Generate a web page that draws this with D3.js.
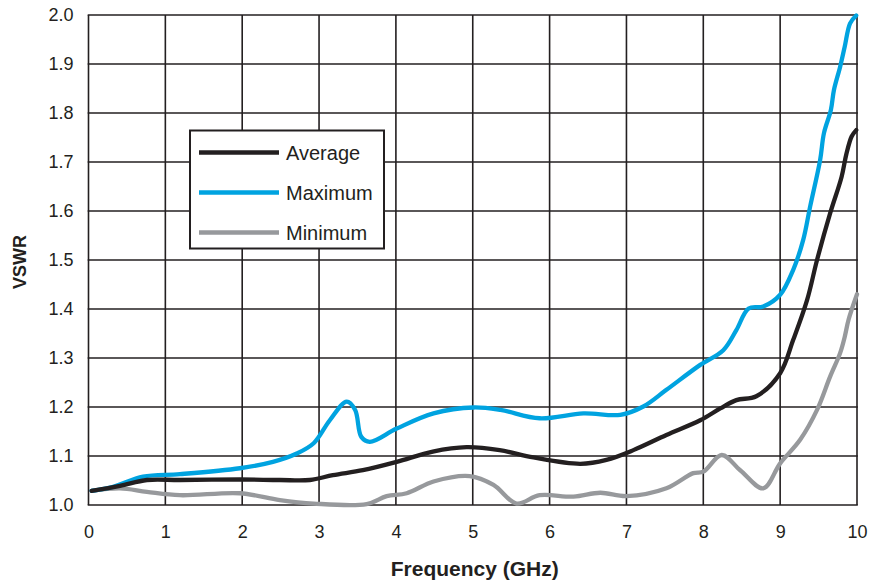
<!DOCTYPE html>
<html>
<head>
<meta charset="utf-8">
<script src="https://cdn.jsdelivr.net/npm/d3@7"></script>
<style>
  html, body { margin: 0; padding: 0; background: #fff; }
  svg { display: block; font-family: "Liberation Sans", Arial, Helvetica, sans-serif; }
</style>
</head>
<body>
<svg id="chart" width="877" height="582"></svg>
<script>
// ---- data ----
const xTicks = [0, 1, 2, 3, 4, 5, 6, 7, 8, 9, 10];
const yTicks = [1.0, 1.1, 1.2, 1.3, 1.4, 1.5, 1.6, 1.7, 1.8, 1.9, 2.0];
const seriesNames = ["Average", "Maximum", "Minimum"];

const averageFreq = [0.04, 0.41, 0.76, 1.19, 1.97, 2.49, 2.88, 3.18, 3.57, 4.01, 4.48, 4.92, 5.35, 5.79, 6.40, 6.74, 7.09, 7.52, 7.96, 8.22, 8.43, 8.69, 9.00, 9.17, 9.35, 9.48, 9.65, 9.80, 9.86, 9.93, 9.99];
const averageVswr = [1.029, 1.039, 1.051, 1.051, 1.052, 1.051, 1.051, 1.061, 1.071, 1.088, 1.109, 1.118, 1.112, 1.097, 1.084, 1.092, 1.112, 1.143, 1.173, 1.197, 1.214, 1.222, 1.269, 1.337, 1.418, 1.50, 1.595, 1.670, 1.715, 1.752, 1.765];

const maximumFreq = [0.04, 0.32, 0.71, 1.19, 1.97, 2.40, 2.71, 2.93, 3.14, 3.36, 3.47, 3.55, 3.66, 4.01, 4.49, 5.01, 5.36, 5.87, 6.44, 6.92, 7.22, 7.52, 7.96, 8.26, 8.43, 8.59, 8.78, 9.00, 9.17, 9.30, 9.39, 9.52, 9.57, 9.66, 9.70, 9.78, 9.84, 9.91, 9.99];
const maximumVswr = [1.029, 1.037, 1.058, 1.063, 1.075, 1.088, 1.105, 1.126, 1.173, 1.211, 1.194, 1.139, 1.129, 1.156, 1.187, 1.199, 1.194, 1.177, 1.187, 1.184, 1.201, 1.235, 1.286, 1.316, 1.357, 1.401, 1.405, 1.429, 1.480, 1.541, 1.609, 1.704, 1.759, 1.806, 1.847, 1.894, 1.935, 1.983, 1.999];

const minimumFreq = [0.04, 0.41, 0.76, 1.19, 1.97, 2.49, 2.93, 3.62, 3.88, 4.14, 4.49, 4.96, 5.27, 5.57, 5.87, 6.31, 6.66, 7.00, 7.52, 7.87, 8.00, 8.24, 8.48, 8.78, 9.00, 9.26, 9.48, 9.65, 9.78, 9.84, 9.89, 10.0];
const minimumVswr = [1.029, 1.034, 1.027, 1.020, 1.024, 1.010, 1.003, 1.002, 1.018, 1.024, 1.048, 1.059, 1.041, 1.003, 1.020, 1.017, 1.025, 1.018, 1.034, 1.065, 1.068, 1.102, 1.071, 1.034, 1.085, 1.133, 1.194, 1.262, 1.310, 1.343, 1.378, 1.430];

// ---- layout ----
const svg = d3.select("#chart");
const plotL = 88.5, plotR = 857, plotT = 15, plotB = 505;
const x = d3.scaleLinear().domain([0, 10]).range([plotL, plotR]);
const y = d3.scaleLinear().domain([1.0, 2.0]).range([plotB, plotT]);

const gridColor = "#231f20";
const colors = { Average: "#231f20", Maximum: "#00a3e0", Minimum: "#97999c" };

// grid
const grid = svg.append("g");
grid.selectAll("line.v").data(xTicks).enter().append("line")
  .attr("x1", d => x(d)).attr("x2", d => x(d))
  .attr("y1", plotT).attr("y2", plotB)
  .attr("stroke", gridColor).attr("stroke-width", 1.6);
grid.selectAll("line.h").data(yTicks).enter().append("line")
  .attr("x1", plotL - 0.8).attr("x2", plotR + 0.8)
  .attr("y1", d => y(d)).attr("y2", d => y(d))
  .attr("stroke", gridColor).attr("stroke-width", 1.6);

// axes (labels only)
const xAxis = d3.axisBottom(x).tickValues(xTicks).tickSize(0).tickPadding(0).tickFormat(d3.format("d"));
const gx = svg.append("g").attr("transform", `translate(0,${plotB + 20})`).call(xAxis);
gx.select(".domain").remove();
gx.selectAll("text").attr("font-size", 18).attr("fill", "#231f20")
  .attr("font-family", "Liberation Sans, Arial, sans-serif").attr("dy", "0.71em");

const yAxis = d3.axisLeft(y).tickValues(yTicks).tickSize(0).tickPadding(0).tickFormat(d3.format(".1f"));
const gy = svg.append("g").attr("transform", `translate(${plotL - 15},0)`).call(yAxis);
gy.select(".domain").remove();
gy.selectAll("text").attr("font-size", 18).attr("fill", "#231f20")
  .attr("font-family", "Liberation Sans, Arial, sans-serif");

// axis titles
svg.append("text").attr("x", (plotL + plotR) / 2 + 2).attr("y", 576)
  .attr("text-anchor", "middle").attr("font-size", 21).attr("font-weight", "bold")
  .attr("fill", "#231f20").text("Frequency (GHz)");
svg.append("text").attr("transform", `translate(26,${(plotT + plotB) / 2 + 2}) rotate(-90)`)
  .attr("text-anchor", "middle").attr("font-size", 18).attr("font-weight", "bold")
  .attr("fill", "#231f20").text("VSWR");

// lines
const line = d3.line().x(d => x(d[0])).y(d => y(d[1])).curve(d3.curveCatmullRom.alpha(0.5));
const series = [
  { name: "Minimum", xs: minimumFreq, ys: minimumVswr },
  { name: "Maximum", xs: maximumFreq, ys: maximumVswr },
  { name: "Average", xs: averageFreq, ys: averageVswr }
];
series.forEach(s => {
  svg.append("path").datum(s.xs.map((v, i) => [v, s.ys[i]]))
    .attr("d", line).attr("fill", "none")
    .attr("stroke", colors[s.name]).attr("stroke-width", 4.3)
    .attr("stroke-linejoin", "round").attr("stroke-linecap", "round");
});

// legend
const lg = svg.append("g");
lg.append("rect").attr("x", 190).attr("y", 130.5).attr("width", 194).attr("height", 118)
  .attr("fill", "#fff").attr("stroke", "#231f20").attr("stroke-width", 2);
seriesNames.forEach((n, i) => {
  const yy = 152.5 + i * 40;
  lg.append("line").attr("x1", 199).attr("x2", 279).attr("y1", yy).attr("y2", yy)
    .attr("stroke", colors[n]).attr("stroke-width", 4.5);
  lg.append("text").attr("x", 286).attr("y", yy + 7).attr("font-size", 20)
    .attr("fill", "#231f20").text(n);
});
</script>
</body>
</html>
